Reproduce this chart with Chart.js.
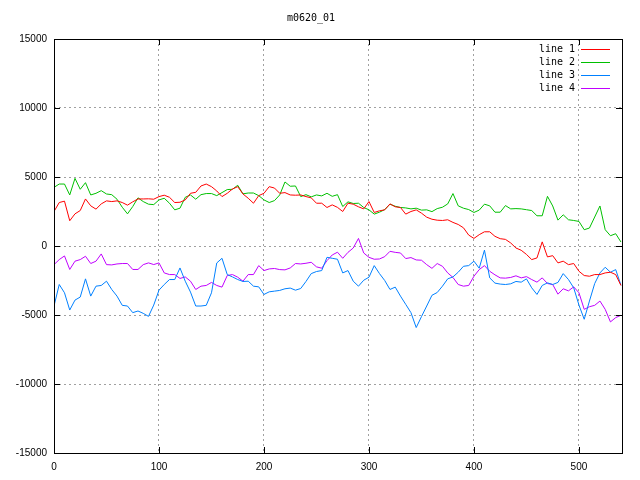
<!DOCTYPE html>
<html>
<head>
<meta charset="utf-8">
<script src="https://cdn.jsdelivr.net/npm/chart.js@4.4.1/dist/chart.umd.min.js"></script>
<style>
  html, body { margin: 0; padding: 0; background: #fff; }
  #wrap { width: 640px; height: 480px; }
</style>
</head>
<body>
<div id="wrap"><canvas id="chart-1"></canvas></div>
<script>
// sample positions (every 5 steps) and the four series
const xs = [];
for (let i = 0; i <= 540; i += 5) xs.push(i);

const line1 = [2500, 3150, 3250, 1830, 2330, 2570, 3410, 2910, 2670, 3050, 3270, 3220, 3270, 3150, 2960, 3200, 3410, 3410,
  3420, 3390, 3580, 3680, 3530, 3150, 3170, 3340, 3820, 3890, 4350, 4490, 4300, 3990, 3580, 3820, 4130, 4300,
  3770, 3460, 3100, 3650, 3820, 4300, 4200, 3820, 3870, 3700, 3680, 3700, 3580, 3490, 3100, 3100, 2790, 2980,
  2800, 2500, 3100, 3030, 2840, 2690, 3220, 2430, 2550, 2620, 3050, 2840, 2790, 2310, 2500, 2620, 2380, 2090,
  1940, 1870, 1850, 1900, 1710, 1560, 1320, 790, 550, 820, 1030, 1030, 700, 530, 480, 220, -145, -310,
  -610, -985, -865, 300, -790, -700, -1225, -1100, -1350, -1270, -1830, -2140, -2190, -2070, -2070, -1950, -1900, -2070, -2860];

const line2 = [4250, 4490, 4490, 3700, 4900, 4110, 4590, 3700, 3820, 4010, 3770, 3720, 3390, 2810, 2330, 2860, 3490, 3220,
  3030, 3000, 3340, 3460, 3100, 2620, 2740, 3530, 3700, 3390, 3720, 3800, 3800, 3650, 3870, 4090, 4110, 4400,
  3780, 3840, 3840, 3650, 3340, 3150, 3290, 3700, 4640, 4330, 4350, 3580, 3720, 3560, 3700, 3630, 3820, 3600,
  3720, 2860, 3200, 3080, 3100, 2790, 2620, 2310, 2450, 2640, 3030, 2880, 2790, 2760, 2690, 2740, 2600, 2620,
  2490, 2710, 2810, 3050, 3800, 2910, 2740, 2640, 2430, 2600, 3030, 2910, 2450, 2450, 2930, 2690, 2710, 2690,
  2630, 2570, 2190, 2190, 3600, 2900, 1875, 2260, 1900, 1850, 1780, 1180, 1300, 2100, 2900, 1180, 745, 890, 290];

const line3 = [-4350, -2790, -3390, -4640, -3920, -3700, -2380, -3630, -2910, -2860, -2550, -3150, -3630, -4300, -4350, -4830, -4710, -4880,
  -5100, -4280, -3200, -2790, -2430, -2430, -1590, -2550, -3340, -4350, -4350, -4300, -3390, -1230, -890, -2070, -2240, -2430,
  -2570, -2550, -2910, -2960, -3510, -3320, -3270, -3220, -3100, -3050, -3200, -3080, -2570, -2000, -1850, -1780, -820, -890,
  -960, -1950, -1780, -2550, -2910, -2480, -2260, -1420, -2000, -2500, -3150, -2980, -3630, -4230, -4830, -5910, -5120, -4350,
  -3570, -3370, -2910, -2380, -2240, -1900, -1470, -1420, -1100, -1610, -300, -2310, -2690, -2760, -2790, -2740, -2570, -2620,
  -2380, -3030, -3510, -2860, -2670, -2790, -2640, -2000, -2430, -3030, -4280, -5310, -3990, -2720, -1950, -1540, -1900, -1710, -2840];

const line4 = [-1350, -985, -720, -1700, -1100, -985, -745, -1270, -1100, -575, -1350, -1370, -1300, -1270, -1270, -1700, -1700, -1350,
  -1225, -1345, -1225, -1950, -2070, -2070, -2350, -2240, -2550, -3150, -2910, -2860, -2640, -2860, -2980, -2140, -2070, -2260,
  -2550, -2070, -2070, -1420, -1780, -1660, -1630, -1710, -1730, -1590, -1270, -1300, -1250, -1180, -1510, -1610, -1060, -650,
  -450, -890, -460, -145, 550, -505, -820, -960, -940, -770, -385, -460, -505, -910, -840, -1010, -1030, -1350,
  -1620, -1270, -1470, -1950, -2280, -2790, -2910, -2860, -2190, -1710, -1420, -1830, -2090, -2310, -2330, -2280, -2160, -2310,
  -2220, -2430, -2620, -2310, -2720, -2790, -3490, -3100, -3250, -2960, -3390, -4590, -4400, -4300, -3990, -4590, -5500, -5190, -5020];

const seriesNames = ["line 1", "line 2", "line 3", "line 4"];
const seriesColors = ["#ff0000", "#00c000", "#0080ff", "#c000ff"];
const xTicks = [0, 100, 200, 300, 400, 500];
const yTicks = [-15000, -10000, -5000, 0, 5000, 10000, 15000];

const monoFont = "'DejaVu Sans Mono', monospace";
const tickFont = "'Liberation Sans', Arial, sans-serif";

const toPoints = (vals) => vals.map((v, i) => ({ x: xs[i], y: v }));

// gnuplot style frame: black box, inward ticks on all four sides
const framePlugin = {
  id: "frame",
  afterDatasetsDraw(chart) {
    const { ctx, chartArea: a, scales } = chart;
    ctx.save();
    ctx.strokeStyle = "#000";
    ctx.lineWidth = 1;
    ctx.beginPath();
    for (const t of xTicks) {
      const px = Math.round(scales.x.getPixelForValue(t)) + 0.5;
      ctx.moveTo(px, a.bottom); ctx.lineTo(px, a.bottom - 6);
      ctx.moveTo(px, a.top); ctx.lineTo(px, a.top + 6);
    }
    for (const t of yTicks) {
      const py = Math.round(scales.y.getPixelForValue(t)) + 0.5;
      ctx.moveTo(a.left, py); ctx.lineTo(a.left + 6, py);
      ctx.moveTo(a.right, py); ctx.lineTo(a.right - 6, py);
    }
    ctx.stroke();
    ctx.strokeRect(Math.round(a.left) + 0.5, Math.round(a.top) + 0.5,
      Math.round(a.right - a.left), Math.round(a.bottom - a.top));
    ctx.restore();
  },
};

// key in the top right corner, text then a short sample of the line
const keyPlugin = {
  id: "key",
  afterDraw(chart) {
    const { ctx, chartArea: a } = chart;
    seriesNames.forEach((name, i) => {
      const y = Math.round(a.top + 9.5 + i * 13);
      ctx.save();
      ctx.font = "10px " + monoFont;
      ctx.textAlign = "right";
      ctx.textBaseline = "middle";
      ctx.fillStyle = "#000";
      ctx.fillText(name, a.right - 47, y);
      ctx.fillStyle = seriesColors[i];
      ctx.fillRect(Math.round(a.right - 41), y, 29, 1);
      ctx.restore();
    });
  },
};

const gridStyle = {
  color: "#a0a0a0",
  lineWidth: 1,
  drawTicks: false,
};

new Chart(document.getElementById("chart-1"), {
  type: "line",
  data: {
    datasets: [line1, line2, line3, line4].map((vals, i) => ({
      label: seriesNames[i],
      data: toPoints(vals),
      borderColor: seriesColors[i],
      backgroundColor: seriesColors[i],
      borderWidth: 1,
      pointRadius: 0,
      tension: 0,
      fill: false,
    })),
  },
  options: {
    responsive: true,
    maintainAspectRatio: false,
    animation: false,
    devicePixelRatio: 1,
    layout: { padding: { left: 0, right: 18, top: 0, bottom: 0 } },
    plugins: {
      legend: { display: false },
      tooltip: { enabled: false },
      title: {
        display: true,
        text: "m0620_01",
        color: "#000",
        font: { family: monoFont, size: 10, weight: "normal" },
        padding: { top: 12, bottom: 15 },
      },
    },
    scales: {
      x: {
        type: "linear",
        min: 0,
        max: 541,
        grid: gridStyle,
        border: { display: false, dash: [2, 3] },
        afterBuildTicks: (s) => { s.ticks = xTicks.map((v) => ({ value: v })); },
        afterFit: (s) => { s.height = 27; },
        ticks: {
          color: "#000",
          padding: 8,
          maxRotation: 0,
          font: { family: tickFont, size: 10 },
          callback: (v) => String(v),
        },
      },
      y: {
        min: -15000,
        max: 15000,
        grid: gridStyle,
        border: { display: false, dash: [2, 3] },
        afterBuildTicks: (s) => { s.ticks = yTicks.map((v) => ({ value: v })); },
        afterFit: (s) => { s.width = 54; },
        ticks: {
          color: "#000",
          padding: 7,
          font: { family: tickFont, size: 10 },
          callback: (v) => String(v),
        },
      },
    },
  },
  plugins: [framePlugin, keyPlugin],
});
</script>
</body>
</html>
